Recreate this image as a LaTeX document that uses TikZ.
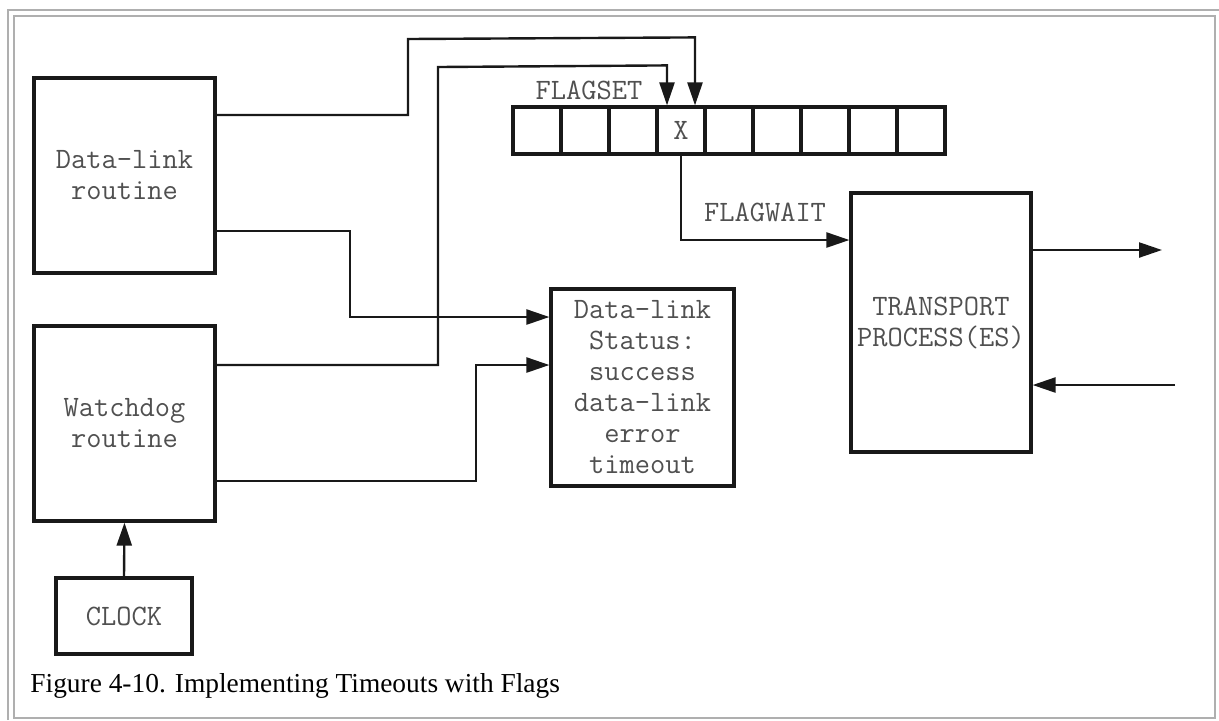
\documentclass[tikz,border=0pt]{standalone}
\usepackage{fontspec}
\setmainfont{Liberation Serif}
\usetikzlibrary{positioning, arrows.meta, calc}
\definecolor{frameGray}{RGB}{175,175,175}
\definecolor{lineDark}{RGB}{25,25,25}
\definecolor{textGray}{RGB}{80,80,80}

\begin{document}
\begin{tikzpicture}[
    x=0.5pt, y=-0.5pt,
    every node/.style={text=textGray, font=\ttfamily\fontsize{14.8pt}{15.5pt}\selectfont},
    blockbox/.style={draw=lineDark, line width=1.6pt, align=center, inner sep=0pt},
    cellbox/.style={draw=lineDark, line width=1.6pt, inner sep=0pt,
        minimum width=24pt, minimum height=23.5pt},
    wire/.style={draw=lineDark, line width=1.2pt},
    link/.style={wire, -{Triangle[length=11.5pt, width=7.5pt]}},
]
% Canvas: x in [0, 1219], y in [0, 720] (pixels, y downwards)
\useasboundingbox (0,0) rectangle (1219,720);

% --- Page frame ---
\draw[frameGray, line width=0.8pt] (8,720) -- (8,10) -- (1219,10);
\draw[frameGray, line width=0.8pt] (14,16) rectangle (1215,718);

% --- Routines on the left ---
\node[blockbox, minimum width=90.5pt, minimum height=97.5pt]
    (dlink) at (124.5,175.5) {Data-link\\routine};
\node[blockbox, minimum width=90.5pt, minimum height=97.5pt]
    (watchdog) at (124.5,423.5) {Watchdog\\routine};
\node[blockbox, minimum width=68pt, minimum height=38pt]
    (clock) at (124,616) {CLOCK};

% --- Status and transport boxes ---
\node[blockbox, minimum width=91.5pt, minimum height=98.5pt]
    (status) at (642.5,387.5) {Data-link\\Status:\\success\\data-link\\error\\timeout};
\node[blockbox, minimum width=90pt, minimum height=129.5pt]
    (transport) at (941,322.5) {TRANSPORT\\PROCESS(ES)};

% --- Flag array ---
\foreach \i/\t in {0/,1/,2/,3/X,4/,5/,6/,7/,8/} {
    \node[cellbox] (cell\i) at ({537+48*\i},130.5) {\t};
}
\node (flagset) at (589,90.5) {FLAGSET};
\node (flagwait) at (765,212) {FLAGWAIT};

% --- Connectors ---
\draw[link] (dlink.east |- 0,115) -- (408,115) -- (408,39)
    -- ($(cell3.north)+(14,39-107)$) -- ($(cell3.north)+(14,0)$);
\draw[link] (watchdog.east |- 0,365) -- (438,365) -- (438,67)
    -- ($(cell3.north)+(-14,67-107)$) -- ($(cell3.north)+(-14,0)$);
\draw[link] (dlink.east |- 0,231) -- (350,231) -- (350,317) -- (status.west |- 0,317);
\draw[link] (watchdog.east |- 0,481) -- (476,481) -- (476,365) -- (status.west |- 0,365);
\draw[link] (cell3.south) -- (cell3.south |- 0,240) -- (transport.west |- 0,240);
\draw[link] (clock.north) -- (watchdog.south);

% Transport in/out
\coordinate (outEnd) at (1162,250);
\coordinate (inStart) at (1175,385);
\draw[link] (transport.east |- outEnd) -- (outEnd);
\draw[link] (inStart) -- (transport.east |- inStart);

% --- Caption ---
\node[anchor=base west, inner sep=0pt, text=black, font=\rmfamily\fontsize{13.7pt}{16pt}\selectfont]
    (caption) at (30,692) {Figure 4-10. Implementing Timeouts with Flags};

\end{tikzpicture}
\end{document}
